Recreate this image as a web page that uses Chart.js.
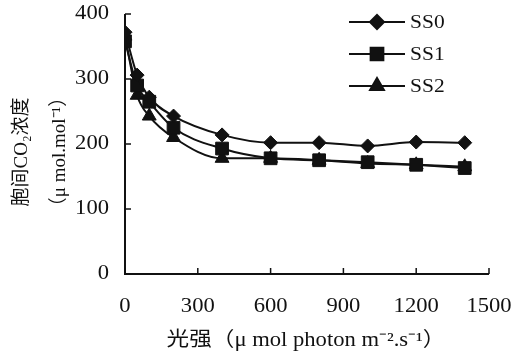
<!DOCTYPE html>
<html><head><meta charset="utf-8">
<script src="https://cdn.jsdelivr.net/npm/chart.js@4.4.1/dist/chart.umd.min.js"></script>
<style>html,body{margin:0;padding:0;background:#fff}#wrap{width:525px;height:361px}</style>
</head><body><div id="wrap"><canvas id="c" width="525" height="361"></canvas></div>
<script>
const lightLevels = [0, 50, 100, 200, 400, 600, 800, 1000, 1200, 1400];
const ss0 = [372, 306, 272, 243, 214, 202, 202, 197, 203, 202];
const ss1 = [358, 290, 265, 225, 193, 178, 175, 172, 168, 163];
const ss2 = [366, 275, 243, 210, 178, 178, 175, 170, 168, 165];
const seriesNames = ['SS0', 'SS1', 'SS2'];
const xTicks = [0, 300, 600, 900, 1200, 1500];
const yTicks = [0, 100, 200, 300, 400];
const yTitle = ['胞间CO₂浓度', '（μ mol.mol⁻¹）'];
const xTitle = '光强（μ mol photon m⁻².s⁻¹）';

const SERIF = '"Liberation Serif","Noto Sans CJK SC",serif';
const markers = ['rectRot', 'rect', 'triangle'];
const radii = [7, 9, 8];
const allVals = [ss0, ss1, ss2];
const STRETCH = 1.13;

const datasets = allVals.map((vals, i) => ({
  label: seriesNames[i],
  data: lightLevels.map((x, j) => ({x, y: vals[j]})),
  borderColor: '#111', backgroundColor: '#111', borderWidth: 2,
  pointStyle: markers[i], pointRadius: radii[i], pointBorderWidth: 1,
  tension: 0.4, cubicInterpolationMode: 'monotone'
}));

function stretchedText(ctx, text, x, y, align) {
  const w = ctx.measureText(text).width * STRETCH;
  let left = x;
  if (align === 'center') left = x - w / 2; else if (align === 'right') left = x - w;
  ctx.save(); ctx.translate(left, y); ctx.scale(STRETCH, 1);
  ctx.textAlign = 'left'; ctx.fillText(text, 0, 0); ctx.restore();
}

const deco = {
  id: 'deco',
  afterDraw(chart) {
    const ctx = chart.ctx, xs = chart.scales.x, ys = chart.scales.y;
    ctx.save();
    ctx.strokeStyle = '#111'; ctx.fillStyle = '#111'; ctx.lineWidth = 2;
    ctx.beginPath();
    ctx.moveTo(xs.left, ys.top); ctx.lineTo(xs.left, ys.bottom); ctx.lineTo(xs.right, ys.bottom);
    ctx.stroke();
    ctx.lineWidth = 1.5;
    ctx.font = '20px ' + SERIF; ctx.textBaseline = 'middle';
    xTicks.forEach(v => {
      const p = xs.getPixelForValue(v);
      ctx.beginPath(); ctx.moveTo(p, ys.bottom); ctx.lineTo(p, ys.bottom - 6); ctx.stroke();
      stretchedText(ctx, String(v), p, 307, 'center');
    });
    yTicks.forEach(v => {
      const p = ys.getPixelForValue(v);
      ctx.beginPath(); ctx.moveTo(xs.left, p); ctx.lineTo(xs.left + 6, p); ctx.stroke();
      stretchedText(ctx, String(v), 109, p, 'right');
    });
    ctx.font = '19px ' + SERIF;
    chart.data.datasets.forEach((ds, i) => {
      const y = 22 + i * 32;
      ctx.lineWidth = 2; ctx.beginPath(); ctx.moveTo(349, y); ctx.lineTo(405, y); ctx.stroke();
      Chart.helpers.drawPoint(ctx, {pointStyle: ds.pointStyle, radius: ds.pointRadius, rotation: 0, borderWidth: 1}, 377, y);
      ctx.fill();
      stretchedText(ctx, ds.label, 410, y + 1, 'left');
    });
    ctx.font = '20px ' + SERIF;
    stretchedText(ctx, xTitle, 306, 341, 'center');
    ctx.font = '19px ' + SERIF; ctx.textAlign = 'center';
    const cy = (ys.top + ys.bottom) / 2 + 8;
    [22, 60].forEach((x, i) => {
      ctx.save(); ctx.translate(x, cy); ctx.rotate(-Math.PI / 2);
      ctx.fillText(yTitle[i], 0, 0); ctx.restore();
    });
    ctx.restore();
  }
};

new Chart(document.getElementById('c'), {
  type: 'line',
  data: {datasets},
  options: {
    responsive: false, animation: false,
    layout: {padding: {top: 14, right: 36, left: 0, bottom: 0}},
    plugins: {legend: {display: false}, tooltip: {enabled: false}},
    scales: {
      x: {type: 'linear', min: 0, max: 1500,
        afterBuildTicks: s => { s.ticks = xTicks.map(v => ({value: v})); },
        afterFit: s => { s.height = 87; s.paddingLeft = 0; s.paddingRight = 0; },
        grid: {display: false, drawTicks: false}, border: {display: false},
        ticks: {display: false}},
      y: {min: 0, max: 400,
        afterBuildTicks: s => { s.ticks = yTicks.map(v => ({value: v})); },
        afterFit: s => { s.width = 125; s.paddingTop = 0; s.paddingBottom = 0; },
        grid: {display: false, drawTicks: false}, border: {display: false},
        ticks: {display: false}}
    }
  },
  plugins: [deco]
});
</script></body></html>
